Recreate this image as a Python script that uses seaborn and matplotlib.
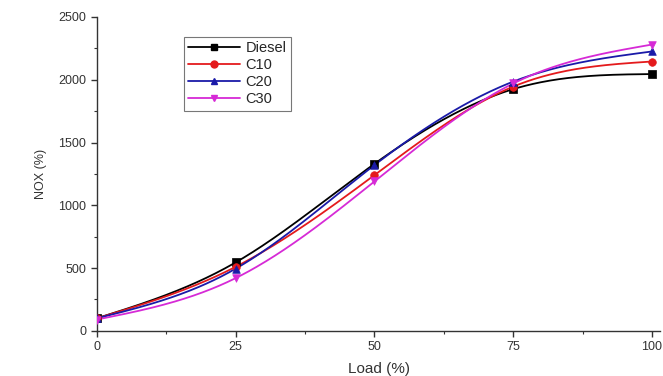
import numpy as np
import pandas as pd
import matplotlib
matplotlib.use("Agg")
import matplotlib.pyplot as plt
import seaborn as sns
from matplotlib.ticker import MultipleLocator

load = [0, 25, 50, 75, 100]
diesel = [100, 545, 1330, 1925, 2045]
c10 = [100, 510, 1240, 1945, 2145]
c20 = [100, 495, 1320, 1985, 2225]
c30 = [90, 420, 1190, 1970, 2280]
series_names = ["Diesel", "C10", "C20", "C30"]
colors = ["#000000", "#e41a1c", "#1a1aa8", "#d62ad6"]
markers = ["s", "o", "^", "v"]


def natural_spline(x, y, xs):
    x = np.asarray(x, float); y = np.asarray(y, float)
    n = len(x)
    h = np.diff(x)
    A = np.zeros((n, n)); b = np.zeros(n)
    A[0, 0] = 1; A[-1, -1] = 1
    for i in range(1, n - 1):
        A[i, i - 1] = h[i - 1]; A[i, i] = 2 * (h[i - 1] + h[i]); A[i, i + 1] = h[i]
        b[i] = 6 * ((y[i + 1] - y[i]) / h[i] - (y[i] - y[i - 1]) / h[i - 1])
    M = np.linalg.solve(A, b)
    out = np.empty_like(xs)
    for k, xv in enumerate(xs):
        i = min(max(np.searchsorted(x, xv) - 1, 0), n - 2)
        t1 = x[i + 1] - xv; t0 = xv - x[i]
        out[k] = (M[i] * t1**3 + M[i + 1] * t0**3) / (6 * h[i]) \
            + (y[i] / h[i] - M[i] * h[i] / 6) * t1 + (y[i + 1] / h[i] - M[i + 1] * h[i] / 6) * t0
    return out


sns.set_theme(style="ticks")
plt.rcParams['font.family'] = ['Liberation Sans', 'DejaVu Sans']

fig = plt.figure(figsize=(6.63, 3.76), dpi=100)
ax = fig.add_axes([0.146, 0.12, 0.85, 0.835])

xs = np.linspace(0, 100, 300)
data = [diesel, c10, c20, c30]
for name, vals, col, mk in zip(series_names, data, colors, markers):
    curve = pd.DataFrame({"x": xs, "y": natural_spline(load, vals, xs)})
    sns.lineplot(data=curve, x="x", y="y", ax=ax, color=col, lw=1.3, zorder=2)
    pts = pd.DataFrame({"x": load, "y": vals})
    sns.scatterplot(data=pts, x="x", y="y", ax=ax, color=col, marker=mk, s=30,
                    edgecolor=col, linewidth=0.5, zorder=3)
    ax.plot([], [], color=col, marker=mk, markersize=5, lw=1.3, label=name)

ax.set_xlim(0, 101.5)
ax.set_ylim(0, 2500)
ax.xaxis.set_major_locator(MultipleLocator(25))
ax.xaxis.set_minor_locator(MultipleLocator(12.5))
ax.yaxis.set_major_locator(MultipleLocator(500))
ax.yaxis.set_minor_locator(MultipleLocator(250))
ax.tick_params(which="major", direction="out", length=4, width=1, labelsize=9, colors="#333333")
ax.tick_params(which="minor", direction="out", length=2.5, width=0.8, colors="#333333")
for s in ["top", "right"]:
    ax.spines[s].set_visible(False)
for s in ["left", "bottom"]:
    ax.spines[s].set_color("#333333")
    ax.spines[s].set_linewidth(1.0)

ax.set_xlabel("Load (%)", fontsize=11, color="#333333", labelpad=6)
ax.set_ylabel("NOX (%)", fontsize=9, color="#333333", labelpad=8)

leg = ax.legend(loc="upper left", bbox_to_anchor=(0.142, 0.959), frameon=True,
                fancybox=False, edgecolor="#555555", fontsize=10.5, handlelength=3.5,
                borderpad=0.3, labelspacing=0.2, handletextpad=0.4)
leg.get_frame().set_linewidth(0.8)

fig.savefig("out.png", dpi=100)
